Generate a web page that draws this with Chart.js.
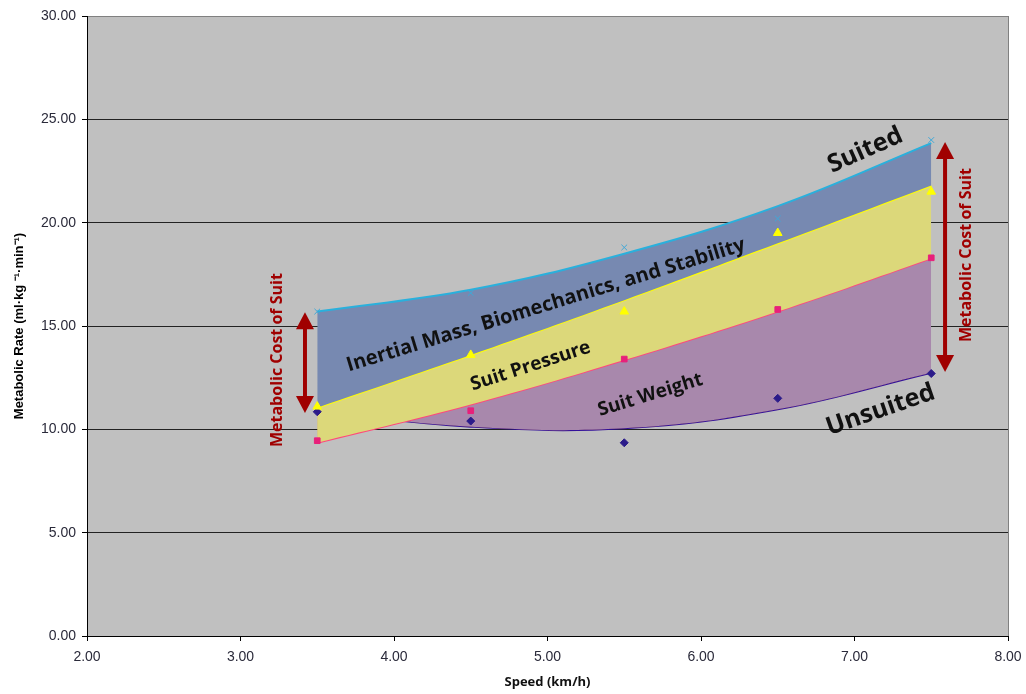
<!DOCTYPE html>
<html>
<head>
<meta charset="utf-8">
<script src="https://cdn.jsdelivr.net/npm/chart.js@4.4.1/dist/chart.umd.min.js"></script>
<style>
  html, body { margin: 0; padding: 0; background: #fff; }
  #wrap { width: 1026px; height: 694px; }
</style>
</head>
<body>
<div id="wrap"><canvas id="rateChart" width="1026" height="694"></canvas></div>
<script>
// measured points
var speeds = [3.5, 4.5, 5.5, 6.5, 7.5];
var suited = [15.7, 16.6, 18.8, 20.2, 24.0];
var pressure = [11.1, 13.6, 15.7, 19.5, 21.5];
var weight = [9.45, 10.9, 13.4, 15.8, 18.3];
var unsuited = [10.85, 10.4, 9.35, 11.5, 12.7];

// trend lines
var suitedTrend = [15.7, 16.75, 18.5, 20.8, 23.85];
var pressureTrend = [11.05, 13.6, 16.25, 19.0, 21.8];
var weightTrend = [9.35, 11.2, 13.35, 15.7, 18.27];
var unsuitedTrend = [10.85, 10.13, 10.05, 10.97, 12.74];

// annotation texts (data coords)
var labelTexts = ["Suited", "Unsuited", "Inertial Mass, Biomechanics, and Stability", "Suit Pressure", "Suit Weight"];
var labelX = [7.07, 7.17, 4.99, 4.89, 5.67];
var labelY = [23.5, 10.93, 16.0, 13.06, 11.66];
var labelAngle = [-24, -19, -17, -18, -17];
var labelSize = [25, 25, 20, 19, 19];

var costText = "Metabolic Cost of Suit";
var arrowX = [3.42, 7.59];
var arrowTop = [15.67, 23.9];
var arrowBottom = [10.79, 12.77];
var costTextX = [3.24, 7.73];
var costTextY = [13.35, 18.43];

function pts(ys) {
    return speeds.map(function (x, i) { return { x: x, y: ys[i] }; });
}

var plotBg = {
    id: "plotBg",
    beforeDraw: function (chart) {
        var a = chart.chartArea, c = chart.ctx;
        c.save();
        c.fillStyle = "#c0c0c0";
        c.fillRect(a.left, a.top, a.right - a.left, a.bottom - a.top);
        c.strokeStyle = "#808080";
        c.lineWidth = 1;
        c.beginPath();
        c.moveTo(a.right + 0.5, a.top);
        c.lineTo(a.right + 0.5, a.bottom);
        c.stroke();
        c.restore();
    }
};

function drawArrow(c, x, y1, y2) {
    var head = 17, half = 9;
    c.strokeStyle = "#a00000";
    c.fillStyle = "#a00000";
    c.lineWidth = 4;
    c.beginPath();
    c.moveTo(x, y1 + head - 2);
    c.lineTo(x, y2 - head + 2);
    c.stroke();
    c.beginPath();
    c.moveTo(x, y1);
    c.lineTo(x - half, y1 + head);
    c.lineTo(x + half, y1 + head);
    c.closePath();
    c.fill();
    c.beginPath();
    c.moveTo(x, y2);
    c.lineTo(x - half, y2 - head);
    c.lineTo(x + half, y2 - head);
    c.closePath();
    c.fill();
}

var notes = {
    id: "notes",
    afterDatasetsDraw: function (chart) {
        var c = chart.ctx, xs = chart.scales.x, ys = chart.scales.y;
        c.save();
        c.textAlign = "center";
        c.textBaseline = "middle";
        for (var i = 0; i < labelTexts.length; i++) {
            c.save();
            c.translate(xs.getPixelForValue(labelX[i]), ys.getPixelForValue(labelY[i]));
            c.rotate(labelAngle[i] * Math.PI / 180);
            c.font = "bold " + labelSize[i] + "px 'Open Sans', sans-serif";
            c.fillStyle = "#111";
            c.fillText(labelTexts[i], 0, 0);
            c.restore();
        }
        for (var j = 0; j < arrowX.length; j++) {
            drawArrow(c, xs.getPixelForValue(arrowX[j]), ys.getPixelForValue(arrowTop[j]), ys.getPixelForValue(arrowBottom[j]));
            c.save();
            c.translate(xs.getPixelForValue(costTextX[j]), ys.getPixelForValue(costTextY[j]));
            c.rotate(-Math.PI / 2);
            c.font = "bold 16px 'Open Sans', sans-serif";
            c.fillStyle = "#a00000";
            c.fillText(costText, 0, 0);
            c.restore();
        }
        c.restore();
    }
};

var ctx = document.getElementById("rateChart").getContext("2d");
var rateChart = new Chart(ctx, {
    type: "scatter",
    data: {
        datasets: [
            { label: "Suited trend", order: 2, data: pts(suitedTrend), showLine: true, borderColor: "#2ab0dc", borderWidth: 2, pointRadius: 0, tension: 0.4, fill: 1, backgroundColor: "#7789b1" },
            { label: "Pressure trend", order: 2, data: pts(pressureTrend), showLine: true, borderColor: "#ffff00", borderWidth: 2, pointRadius: 0, tension: 0.4, fill: 2, backgroundColor: "#dcd87a" },
            { label: "Weight trend", order: 2, data: pts(weightTrend), showLine: true, borderColor: "#ff4a7a", borderWidth: 2, pointRadius: 0, tension: 0.4, fill: { target: 3, above: "#a888ac", below: "#e4a46a" }, backgroundColor: "#a888ac" },
            { label: "Unsuited trend", order: 2, data: pts(unsuitedTrend), showLine: true, borderColor: "#33109a", borderWidth: 2, pointRadius: 0, tension: 0.4, fill: false },
            { label: "Suited", order: 1, data: pts(suited), pointStyle: "crossRot", pointRadius: 4, borderColor: "#3fa8d8", borderWidth: 1, backgroundColor: "#3fa8d8" },
            { label: "Pressure", order: 1, data: pts(pressure), pointStyle: "triangle", pointRadius: 5, borderColor: "#ffff00", backgroundColor: "#ffff00" },
            { label: "Weight", order: 1, data: pts(weight), pointStyle: "rect", pointRadius: 4, borderColor: "#e8207a", backgroundColor: "#e8207a" },
            { label: "Unsuited", order: 1, data: pts(unsuited), pointStyle: "rectRot", pointRadius: 4, borderColor: "#2b1b8a", backgroundColor: "#2b1b8a" }
        ]
    },
    options: {
        responsive: false,
        animation: false,
        layout: { padding: { left: 0, right: 18, top: 16, bottom: 0 } },
        plugins: { legend: { display: false }, tooltip: { enabled: false } },
        scales: {
            x: {
                type: "linear",
                min: 2, max: 8,
                afterFit: function (s) { s.height = 58; s.paddingRight = 0; s.paddingLeft = 0; },
                ticks: { stepSize: 1, color: "#2a2a3a", font: { family: "'Liberation Sans', Arial", size: 14 }, padding: 8, callback: function (v) { return v.toFixed(2); } },
                grid: { drawOnChartArea: false, tickLength: 5, color: "#000", tickColor: "#000" },
                border: { color: "#000", width: 1 },
                title: { display: true, text: "Speed (km/h)", color: "#111", font: { family: "'Open Sans', sans-serif", size: 13, weight: "bold" }, padding: { top: 8 } }
            },
            y: {
                min: 0, max: 30,
                afterFit: function (s) { s.width = 87; },
                ticks: { stepSize: 5, color: "#2a2a3a", font: { family: "'Liberation Sans', Arial", size: 14 }, padding: 6, callback: function (v) { return v.toFixed(2); } },
                grid: { tickLength: 5, color: function (c) { return c.tick.value === 30 ? "#808080" : "#222"; }, tickColor: "#000" },
                border: { color: "#000", width: 1 },
                title: { display: true, text: "Metabolic Rate (ml·kg ⁻¹·min⁻¹)", color: "#000", font: { family: "'Liberation Sans', Arial", size: 13, weight: "bold" }, padding: { top: 12, bottom: 4 } }
            }
        }
    },
    plugins: [plotBg, notes]
});
</script>
</body>
</html>
